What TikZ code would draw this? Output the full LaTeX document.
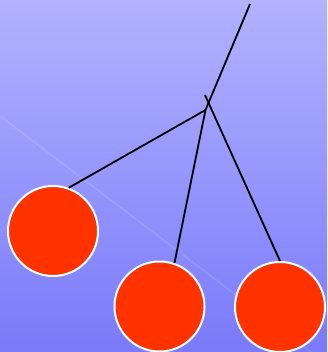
\documentclass[tikz,border=0pt]{standalone}
\usepackage{tikz}
\usetikzlibrary{positioning}
\definecolor{skyTopCol}{RGB}{178, 178, 255}
\definecolor{skyBotCol}{RGB}{122, 122, 250}
\definecolor{ballCol}{RGB}{255, 51, 0}

\begin{document}
\begin{tikzpicture}[
    x=1pt, y=-1pt,
    ball/.style={circle, minimum size=90pt, inner sep=0pt, fill=ballCol, draw=white, line width=2pt},
    cord/.style={line width=1.8pt, draw=black}
]

    % ---------------- background ----------------
    \useasboundingbox (0,0) rectangle (327,352);
    \shade[top color=skyTopCol, bottom color=skyBotCol] (0,0) rectangle (327,352);
    \draw[line width=1.6pt, draw=white, opacity=0.12] (0,116) -- (311,352);

    % ---------------- balls ----------------
    \node[ball] (leftBall)  at (53, 231)  {};
    \node[ball] (midBall)   at (159.5, 306.5) {};
    \node[ball] (rightBall) at (280, 307) {};

    % ---------------- cords ----------------
    \coordinate (topEnd) at (250, 4);
    \coordinate (knot)   at (205.5, 110);
    \coordinate (knotUp) at (205, 95);

    \draw[cord] (topEnd) -- (knot);
    \draw[cord] (knot) -- (leftBall.70);
    \draw[cord] (knot) -- (midBall.71);
    \draw[cord] (knotUp) -- (rightBall.90);

\end{tikzpicture}
\end{document}
